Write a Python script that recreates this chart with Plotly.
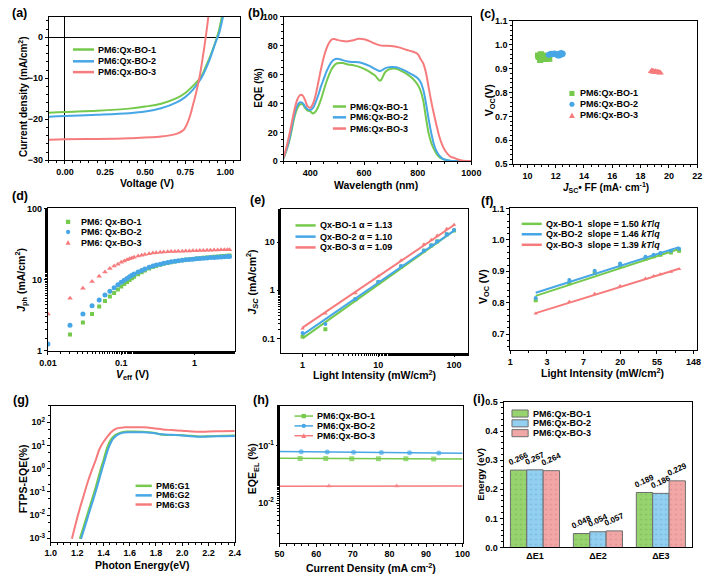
import numpy as np
import plotly.graph_objects as go

W, H = 715, 579
FONT = "Arial, Liberation Sans, sans-serif"
GREEN = "#75c94c"
BLUE = "#47a6e6"
RED = "#f67b7d"
NAMES = ["PM6:Qx-BO-1", "PM6:Qx-BO-2", "PM6:Qx-BO-3"]

# (a) J-V curves
jv_v1 = [-0.1, 0.0, 0.2, 0.4, 0.5, 0.6, 0.7, 0.75, 0.8, 0.85, 0.88, 0.9, 0.92, 0.94, 0.96, 0.98]
jv_j1 = [-18.4, -18.2, -17.9, -17.4, -16.9, -16.2, -14.8, -13.6, -11.8, -9.6, -7.0, -5.2, -3.2, -1.0, 1.6, 5.3]
jv_v2 = [-0.1, 0.0, 0.2, 0.4, 0.5, 0.6, 0.7, 0.75, 0.8, 0.85, 0.88, 0.9, 0.92, 0.94, 0.96, 0.98, 0.99]
jv_j2 = [-19.4, -19.2, -18.9, -18.5, -18.1, -17.3, -15.8, -14.6, -12.7, -10.0, -7.6, -5.7, -3.5, -1.2, 0.8, 4.0, 5.8]
jv_v3 = [-0.1, 0.0, 0.2, 0.4, 0.6, 0.7, 0.74, 0.76, 0.78, 0.8, 0.82, 0.84, 0.86, 0.87, 0.88, 0.89, 0.895]
jv_j3 = [-25.0, -24.9, -24.8, -24.6, -24.2, -23.5, -22.6, -21.3, -19.2, -16.3, -13.2, -9.6, -4.8, -2.2, 0.6, 3.6, 5.3]

# (b) EQE spectra
eqe_wl = [300, 310, 320, 330, 340, 350, 360, 370, 380, 390, 400, 410, 420, 430, 440, 450, 460, 470,
          480, 490, 500, 520, 540, 560, 580, 600, 620, 640, 660, 680, 700, 720, 740, 760, 780, 800,
          810, 820, 830, 840, 850, 860, 870, 880, 890, 900, 920, 940, 960, 980, 1000]
eqe_bo1 = [2, 7, 13, 21, 30, 36, 39.2, 39.5, 37, 35, 34.5, 33, 34.5, 38, 43, 49, 55, 60,
           64, 66.5, 67.8, 68, 67, 66.5, 65.5, 64, 62, 59.5, 55.8, 62, 64, 64, 62.4, 60.3, 57.4, 53,
           49, 42.6, 31, 20, 13, 8.6, 5.2, 3, 1.8, 1.1, 0.3, 0.1, 0, 0, 0]
eqe_bo2 = [2, 7.5, 14, 23, 32, 38, 40.8, 40.5, 38, 36, 35.5, 37, 41, 46, 52, 57, 62, 66,
           69, 70.5, 71, 70, 69, 68.7, 68.5, 67.5, 66, 64, 62.5, 64.5, 65.2, 65, 63.8, 62, 60, 57.5,
           55, 50, 41, 30, 20, 12, 7, 4, 2.2, 1.2, 0.4, 0.1, 0, 0, 0]
eqe_bo3 = [2.5, 9, 17, 26, 35, 42, 45.5, 45.8, 42.5, 38, 37, 40, 46, 55, 64, 72, 78, 82,
           84.3, 84.6, 84, 83.2, 83, 83.8, 84.8, 84.5, 83.2, 81.5, 80.2, 80, 79.8, 79.2, 78.3, 77, 76, 74.2,
           71, 68, 62, 52, 42, 33, 25, 17.5, 12, 8, 3.5, 2, 0.7, 0.2, 0.1]

# (c) Voc vs Jsc*FF
c_x1 = [10.75, 10.8, 10.85, 10.9, 10.95, 11.0, 11.05, 11.1, 10.9, 11.0, 11.2, 11.3, 11.45, 11.55, 10.95]
c_y1 = [0.955, 0.948, 0.952, 0.945, 0.958, 0.95, 0.944, 0.955, 0.936, 0.94, 0.946, 0.94, 0.942, 0.941, 0.96]
c_x2 = [11.5, 11.6, 11.7, 11.8, 11.9, 12.0, 12.1, 12.2, 12.25, 12.3, 12.35, 12.4, 12.45, 12.5, 12.15]
c_y2 = [0.958, 0.96, 0.962, 0.96, 0.963, 0.961, 0.958, 0.96, 0.955, 0.963, 0.958, 0.965, 0.96, 0.962, 0.955]
c_x3 = [18.75, 18.8, 18.85, 18.9, 18.95, 19.0, 19.05, 19.1, 19.15, 19.2, 19.25, 19.3, 19.35, 19.4]
c_y3 = [0.888, 0.892, 0.886, 0.89, 0.887, 0.884, 0.889, 0.886, 0.883, 0.887, 0.884, 0.882, 0.885, 0.881]

# (d) Jph vs Veff
veff = [0.01, 0.02, 0.03, 0.04, 0.05, 0.06, 0.07, 0.08, 0.09, 0.10, 0.11, 0.12, 0.13, 0.14, 0.15,
        0.17, 0.19, 0.21, 0.24, 0.27, 0.30, 0.34, 0.38, 0.43, 0.48, 0.54, 0.60, 0.68, 0.76, 0.85,
        0.95, 1.06, 1.18, 1.32, 1.48, 1.65, 1.85, 2.07, 2.3, 2.55, 2.8, 3.0]
jph_bo1 = [0.85, 1.7, 2.5, 3.3, 4.2, 5.0, 5.8, 6.5, 7.3, 8.0, 8.7, 9.3, 9.9, 10.5, 11.0,
           11.9, 12.7, 13.4, 14.3, 15.0, 15.6, 16.2, 16.7, 17.2, 17.6, 18.0, 18.3, 18.7, 19.0, 19.3,
           19.5, 19.8, 20.0, 20.3, 20.5, 20.7, 20.9, 21.1, 21.3, 21.5, 21.7, 21.9]
jph_bo2 = [1.25, 2.3, 3.3, 4.3, 5.2, 6.1, 6.9, 7.7, 8.5, 9.2, 9.8, 10.4, 11.0, 11.5, 12.0,
           12.8, 13.5, 14.1, 14.9, 15.5, 16.0, 16.5, 17.0, 17.4, 17.8, 18.1, 18.4, 18.7, 19.0, 19.2,
           19.4, 19.6, 19.8, 20.0, 20.2, 20.4, 20.5, 20.7, 20.8, 21.0, 21.1, 21.2]
jph_bo3 = [3.3, 5.5, 7.6, 9.4, 11.2, 12.8, 14.3, 15.5, 16.5, 17.5, 18.3, 19.0, 19.6, 20.2, 20.7,
           21.5, 22.1, 22.6, 23.2, 23.6, 23.9, 24.2, 24.4, 24.6, 24.8, 24.9, 25.0, 25.1, 25.2, 25.3,
           25.4, 25.5, 25.6, 25.7, 25.8, 25.9, 26.0, 26.1, 26.2, 26.3, 26.3, 26.4]

# (e) Jsc vs light intensity
e_int = [1, 2, 5, 10, 20, 40, 50, 60, 80, 100]
jsc_bo1 = [0.11, 0.155, 0.65, 1.45, 3.1, 6.6, 8.5, 10.3, 14.5, 17.5]
jsc_bo2 = [0.13, 0.20, 0.66, 1.5, 3.2, 6.7, 8.6, 10.5, 14.8, 17.8]
jsc_bo3 = [0.16, 0.33, 0.87, 1.95, 4.2, 9.0, 11.2, 13.7, 19.0, 23.0]
e_fit_int = [1, 100]
e_fit1 = [0.100, 17.2]
e_fit2 = [0.119, 17.4]
e_fit3 = [0.168, 22.7]
e_labels = ["Qx-BO-1 \u03b1 = 1.13", "Qx-BO-2 \u03b1 = 1.10", "Qx-BO-3 \u03b1 = 1.09"]

# (f) Voc vs light intensity (ln scale)
f_int = [2, 5, 10, 20, 40, 50, 60, 80, 100]
voc_bo1 = [0.808, 0.862, 0.895, 0.918, 0.940, 0.948, 0.953, 0.960, 0.965]
voc_bo2 = [0.815, 0.872, 0.902, 0.925, 0.946, 0.953, 0.958, 0.965, 0.972]
voc_bo3 = [0.766, 0.803, 0.829, 0.853, 0.877, 0.885, 0.891, 0.899, 0.907]
f_fit_int = [2, 100]
f_fit1 = [0.822, 0.971]
f_fit2 = [0.832, 0.977]
f_fit3 = [0.767, 0.908]
f_ticktext = ["1", "3", "7", "20", "55", "148"]
f_labels = ["Qx-BO-1  slope = 1.50 <i>kT</i>/<i>q</i>", "Qx-BO-2  slope = 1.46 <i>kT</i>/<i>q</i>",
            "Qx-BO-3  slope = 1.39 <i>kT</i>/<i>q</i>"]

# (g) FTPS-EQE
g_e1 = [1.22, 1.25, 1.28, 1.31, 1.34, 1.37, 1.40, 1.43, 1.46, 1.49, 1.52, 1.55, 1.58, 1.62,
        1.7, 1.78, 1.85, 1.92, 2.0, 2.07, 2.13, 2.2, 2.3, 2.4]
g_q1 = [0.00095, 0.0033, 0.0118, 0.042, 0.15, 0.62, 2.3, 8.5, 19, 28, 34, 38, 39.5, 39.5,
        38.5, 35, 29, 28, 27.5, 26, 24.5, 25, 26, 26.5]
g_e2 = [1.23, 1.26, 1.29, 1.32, 1.35, 1.38, 1.41, 1.44, 1.47, 1.50, 1.53, 1.56, 1.6, 1.7,
        1.78, 1.85, 1.92, 2.0, 2.07, 2.13, 2.2, 2.3, 2.4]
g_q2 = [0.00095, 0.0033, 0.012, 0.042, 0.15, 0.6, 2.3, 8, 18, 27, 33, 36, 37, 37,
        34, 30, 28.5, 27, 25, 23.5, 24, 25, 25.5]
g_e3 = [1.16, 1.19, 1.22, 1.25, 1.28, 1.31, 1.34, 1.37, 1.40, 1.43, 1.46, 1.49, 1.52, 1.56,
        1.62, 1.7, 1.78, 1.85, 1.92, 2.0, 2.07, 2.13, 2.2, 2.3, 2.4]
g_q3 = [0.00095, 0.0045, 0.019, 0.07, 0.26, 0.8, 2.2, 7.0, 14, 24, 38, 50, 57, 60,
        61, 60, 55, 49, 46, 43, 40, 38.5, 39.5, 41, 42]
g_names = ["PM6:G1", "PM6:G2", "PM6:G3"]

# (h) EQE_EL
h_j1 = [50, 55.6, 62.6, 69.7, 77, 84.5, 92.1, 100]
h_q1 = [0.0607, 0.0605, 0.0603, 0.0600, 0.0598, 0.0595, 0.0592, 0.0590]
h_j2 = [50, 55.9, 63, 70.2, 77.8, 85.5, 93.5, 100]
h_q2 = [0.0800, 0.0795, 0.0785, 0.0775, 0.0768, 0.0760, 0.0752, 0.0745]
h_j3 = [50, 63.5, 82, 100]
h_q3 = [0.0198, 0.0199, 0.0199, 0.0200]

# (i) energy losses
loss_cats = ["\u0394E1", "\u0394E2", "\u0394E3"]
loss_bo1 = [0.266, 0.048, 0.189]
loss_bo2 = [0.267, 0.054, 0.186]
loss_bo3 = [0.264, 0.057, 0.229]

COLORS = [GREEN, BLUE, RED]
BAR_COLORS = ["#97d46f", "#92cff0", "#f2a7a7"]
BAR_DOTS = ["#6aa548", "#5f9fc4", "#c97a7a"]


def px(x):
    return x / W


def py(y):
    return 1 - y / H


def dom(l, r, t, b):
    return [px(l), px(r)], [py(b), py(t)]


BASE = dict(
    showline=True, mirror=True, linecolor="black", linewidth=1,
    ticks="outside", ticklen=3, tickwidth=1, tickcolor="black",
    showgrid=False, zeroline=False,
    tickfont=dict(family=FONT, size=9, color="black", weight="bold"),
    minor=dict(ticks="outside", ticklen=2, tickcolor="black"),
)

frames = {
    "": (41, 237, 12, 158),
    "2": (282, 475, 12, 159),
    "3": (518, 707, 16, 162),
    "4": (40, 232, 207, 352),
    "5": (279, 472, 208, 354),
    "6": (515, 707, 207, 351),
    "7": (43, 232, 408, 546),
    "8": (278, 466, 408, 547),
    "9": (508, 702, 404, 552),
}

fig = go.Figure()
shapes, annos = [], []


def ax_ids(k):
    return "x" + k, "y" + k


def line(k, x, y, color, width=2, shape="spline"):
    xa, ya = ax_ids(k)
    fig.add_trace(go.Scatter(x=x, y=y, mode="lines", xaxis=xa, yaxis=ya, showlegend=False,
                             line=dict(color=color, width=width, shape=shape)))


def pts(k, x, y, color, symbol, size=5):
    xa, ya = ax_ids(k)
    fig.add_trace(go.Scatter(x=x, y=y, mode="markers", xaxis=xa, yaxis=ya, showlegend=False,
                             marker=dict(color=color, symbol=symbol, size=size, line=dict(width=0))))


def text(x, y, s, size=9, anchor="left", angle=0):
    annos.append(dict(xref="paper", yref="paper", x=px(x), y=py(y), text=s, showarrow=False,
                      xanchor=anchor, yanchor="middle", textangle=angle,
                      font=dict(family=FONT, size=size, color="black", weight="bold")))


def leg_line(x0, x1, y, color, s, width=2.5):
    shapes.append(dict(type="line", xref="paper", yref="paper", x0=px(x0), x1=px(x1),
                       y0=py(y), y1=py(y), line=dict(color=color, width=width)))
    text(x1 + 2, y, s)


def leg_marker(x, y, color, kind, s, r=2.6, xt=None):
    if kind == "square":
        shapes.append(dict(type="rect", xref="paper", yref="paper", x0=px(x - r), x1=px(x + r),
                           y0=py(y + r), y1=py(y - r), fillcolor=color, line=dict(width=0)))
    elif kind == "circle":
        shapes.append(dict(type="circle", xref="paper", yref="paper", x0=px(x - r), x1=px(x + r),
                           y0=py(y + r), y1=py(y - r), fillcolor=color, line=dict(width=0)))
    else:
        path = "M %f,%f L %f,%f L %f,%f Z" % (px(x - r - 0.4), py(y + r), px(x + r + 0.4), py(y + r),
                                              px(x), py(y - r - 0.4))
        shapes.append(dict(type="path", xref="paper", yref="paper", path=path,
                           fillcolor=color, line=dict(width=0)))
    if s:
        text(xt if xt is not None else x + 10, y, s)


KINDS = ["square", "circle", "triangle"]
SYMS = ["square", "circle", "triangle-up"]

# ---- (a)
for v, j, c in zip([jv_v1, jv_v2, jv_v3], [jv_j1, jv_j2, jv_j3], COLORS):
    line("", v, j, c)
for i, (yy, c) in enumerate(zip([45.3, 57.3, 68.3], COLORS)):
    leg_line(65.7, 87.3, yy, c, NAMES[i])

# ---- (b)
for q, c in zip([eqe_bo1, eqe_bo2, eqe_bo3], COLORS):
    line("2", eqe_wl, q, c)
for i, (yy, c) in enumerate(zip([103.3, 114.3, 125.7], COLORS)):
    leg_line(332.7, 346.3, yy, c, NAMES[i])

# ---- (c)
for x, y, c, s in zip([c_x1, c_x2, c_x3], [c_y1, c_y2, c_y3], COLORS, SYMS):
    pts("3", x, y, c, s, size=6)
for i, (yy, c) in enumerate(zip([90, 101, 112.3], COLORS)):
    leg_marker(578.3, yy, c, KINDS[i], NAMES[i], xt=585)

# ---- (d)
for j, c, s, sz in zip([jph_bo1, jph_bo2, jph_bo3], COLORS, SYMS, [4, 5, 5]):
    pts("4", veff, j, c, s, size=sz)
for i, (yy, c) in enumerate(zip([220.7, 231, 241.7], COLORS)):
    leg_marker(60.7, yy, c, KINDS[i], NAMES[i].replace(":", ": "), r=2.2, xt=71.7)

# ---- (e)
for j, fit, c, s in zip([jsc_bo1, jsc_bo2, jsc_bo3], [e_fit1, e_fit2, e_fit3], COLORS, SYMS):
    line("5", e_fit_int, fit, c, shape="linear")
    pts("5", e_int, j, c, s, size=4)
for i, (yy, c) in enumerate(zip([224.3, 235.7, 246.7], COLORS)):
    leg_line(294.3, 315, yy, c, e_labels[i])

# ---- (f)
f_lnx = np.log(f_int)
f_lnfit = np.log(f_fit_int)
for v, fit, c, s in zip([voc_bo1, voc_bo2, voc_bo3], [f_fit1, f_fit2, f_fit3], COLORS, SYMS):
    line("6", f_lnfit, fit, c, shape="linear")
    pts("6", f_lnx, v, c, s, size=4)
for i, (yy, c) in enumerate(zip([222.7, 233.3, 244], COLORS)):
    leg_line(526.7, 547.3, yy, c, f_labels[i])

# ---- (g)
for e, q, c in zip([g_e1, g_e2, g_e3], [g_q1, g_q2, g_q3], COLORS):
    line("7", e, q, c)
for i, (yy, c) in enumerate(zip([489.3, 499, 508.3], COLORS)):
    leg_line(130, 146.7, yy, c, g_names[i])

# ---- (h)
for jx, q, c, s in zip([h_j1, h_j2, h_j3], [h_q1, h_q2, h_q3], COLORS, SYMS):
    sizes = [0] + [5] * (len(jx) - 2) + [0]
    fig.add_trace(go.Scatter(x=jx, y=q, mode="lines+markers", xaxis="x8", yaxis="y8", showlegend=False,
                             line=dict(color=c, width=1.5),
                             marker=dict(symbol=s, size=sizes, color=c, line=dict(width=0))))
for i, (yy, c) in enumerate(zip([418.3, 428.3, 438.3], COLORS)):
    shapes.append(dict(type="line", xref="paper", yref="paper", x0=px(293.3), x1=px(312.3),
                       y0=py(yy), y1=py(yy), line=dict(color=c, width=1.5)))
    leg_marker(302.8, yy, c, KINDS[i], None, r=2.2)
    text(314, yy, NAMES[i])

# ---- (i)
for vals, bc, dc in zip([loss_bo1, loss_bo2, loss_bo3], BAR_COLORS, BAR_DOTS):
    fig.add_trace(go.Bar(x=loss_cats, y=vals, xaxis="x9", yaxis="y9", showlegend=False,
                         marker=dict(color=bc, line=dict(color="#6e6e6e", width=1),
                                     pattern=dict(shape=".", fgcolor=dc, size=5, solidity=0.12,
                                                  fillmode="overlay")),
                         text=["%.3f" % v for v in vals], textposition="outside", textangle=-25,
                         cliponaxis=False, constraintext="none",
                         textfont=dict(family=FONT, size=8, color="black", weight="bold")))
for i, (yy, bc) in enumerate(zip([415.7, 425.7, 435.7], BAR_COLORS)):
    shapes.append(dict(type="rect", xref="paper", yref="paper", x0=px(516.7), x1=px(533.3),
                       y0=py(yy + 3.6), y1=py(yy - 3.6), fillcolor=bc,
                       line=dict(color="#6e6e6e", width=1)))
    text(536.7, yy, NAMES[i])

# ---- axes
lay = {}
for k, (l, r, t, b) in frames.items():
    xd, yd = dom(l, r, t, b)
    lay["xaxis" + k] = dict(BASE, domain=xd, anchor="y" + k)
    lay["yaxis" + k] = dict(BASE, domain=yd, anchor="x" + k)

lay["xaxis"].update(range=[-0.1, 1.09], tick0=0, dtick=0.25, tickformat=".2f",
                    zeroline=True, zerolinecolor="black", zerolinewidth=1)
lay["yaxis"].update(range=[-30, 5], dtick=10, zeroline=True, zerolinecolor="black", zerolinewidth=1)
lay["xaxis2"].update(range=[300, 1000], dtick=200, tick0=0)
lay["yaxis2"].update(range=[0, 100], dtick=20)
lay["xaxis3"].update(range=[9, 22], dtick=2, tick0=0)
lay["yaxis3"].update(range=[0.5, 1.1], dtick=0.1, tickformat=".1f")
lay["xaxis4"].update(type="log", range=[-2, 0.55], tickvals=[0.01, 0.1, 1], ticktext=["0.01", "0.1", "1"])
lay["yaxis4"].update(type="log", range=[0, 2], tickvals=[1, 10, 100], ticktext=["1", "10", "100"])
lay["xaxis5"].update(type="log", range=[-0.29, 2.19], tickvals=[1, 10, 100], ticktext=["1", "10", "100"])
lay["yaxis5"].update(type="log", range=[-1.3, 1.68], tickvals=[0.1, 1, 10], ticktext=["0.1", "1", "10"])
lay["xaxis6"].update(range=[0, 5.1], tickvals=list(range(6)), ticktext=f_ticktext)
lay["yaxis6"].update(range=[0.65, 1.1], dtick=0.1, tick0=0, tickformat=".1f")
lay["xaxis7"].update(range=[1.0, 2.4], dtick=0.2, tick0=0, tickformat=".1f")
lay["yaxis7"].update(type="log", range=[-3.14, 2.7], tickvals=[10.0 ** p for p in range(-3, 3)],
                     ticktext=["10<sup>%d</sup>" % p for p in range(-3, 3)])
lay["xaxis8"].update(range=[50, 100], dtick=10)
lay["yaxis8"].update(type="log", range=[-2.69, -0.3], tickvals=[0.01, 0.1],
                     ticktext=["10<sup>-2</sup>", "10<sup>-1</sup>"])
lay["xaxis9"].update(range=[-0.5, 2.5], minor=dict(ticks=""), ticks="")
lay["yaxis9"].update(range=[0, 0.5], dtick=0.1, tickformat=".1f")

# ---- panel letters
for s, x, y in [("(a)", 1, 8), ("(b)", 243, 8), ("(c)", 482, 9), ("(d)", 1, 194), ("(e)", 246, 198),
                ("(f)", 483, 199), ("(g)", 2, 402), ("(h)", 249, 402), ("(i)", 475, 401)]:
    text(x, y, s, size=12.5)

# ---- axis titles
text(142, 181, "Voltage (V)", size=10.5, anchor="center")
text(15, 93, "Current density (mA/cm<sup>2</sup>)", size=10, anchor="center", angle=-90)
text(377, 183, "Wavelength (nm)", size=10.5, anchor="center")
text(256, 85, "EQE (%)", size=10, anchor="center", angle=-90)
text(613, 186, "<i>J</i><sub>SC</sub>\u2022 FF (mA\u00b7 cm<sup>-1</sup>)", size=10, anchor="center")
text(494, 97, "V<sub>OC</sub>(V)", size=10.5, anchor="center", angle=-90)
text(127, 377, "<i>V</i><sub>eff</sub> (V)", size=10.5, anchor="center")
text(13, 280, "<i>J</i><sub>ph</sub> (mA/cm<sup>2</sup>)", size=10.5, anchor="center", angle=-90)
text(375, 376, "Light Intensity (mW/cm<sup>2</sup>)", size=10.5, anchor="center")
text(250, 282, "<i>J</i><sub><i>SC</i></sub> (mA/cm<sup>2</sup>)", size=10.5, anchor="center", angle=-90)
text(610, 374, "Light Intensity (mW/cm<sup>2</sup>)", size=10.5, anchor="center")
text(488, 287, "V<sub>OC</sub> (V)", size=10.5, anchor="center", angle=-90)
text(137, 570, "Photon Energy(eV)", size=10.5, anchor="center")
text(14, 482, "FTPS-EQE(%)", size=10.5, anchor="center", angle=-90)
text(372, 572, "Current Density (mA cm<sup>-2</sup>)", size=10.5, anchor="center")
text(251, 472, "EQE<sub>EL</sub> (%)", size=10.5, anchor="center", angle=-90)
text(485, 478, "Energy (eV)", size=9.5, anchor="center", angle=-90)

fig.update_layout(
    width=W, height=H, margin=dict(l=0, r=0, t=0, b=0),
    paper_bgcolor="white", plot_bgcolor="white",
    font=dict(family=FONT, size=9, color="black"),
    showlegend=False, barmode="group", bargap=0.22, bargroupgap=0,
    shapes=shapes, annotations=annos, **lay,
)

fig.write_html("out.html", config={"displayModeBar": False},
               post_script="document.body.style.margin='0';")
